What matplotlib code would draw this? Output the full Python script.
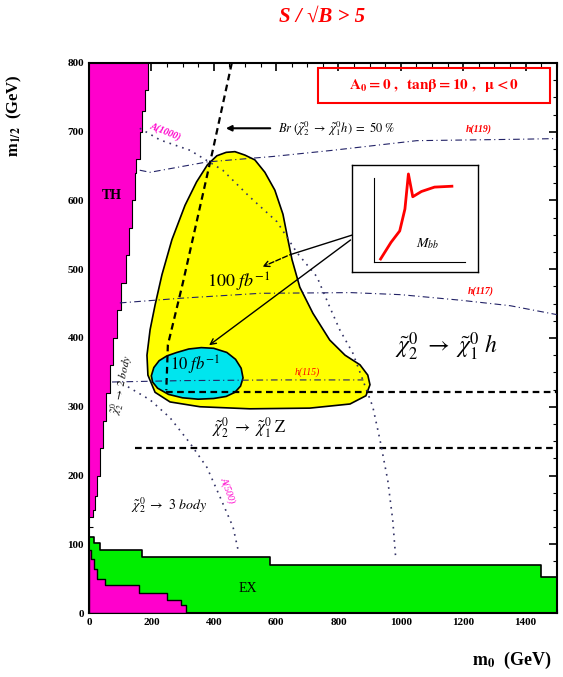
import numpy as np
import matplotlib
matplotlib.use("Agg")
import matplotlib.pyplot as plt
from matplotlib.patches import Polygon, Rectangle

plt.rcParams["font.family"] = ["Liberation Serif", "DejaVu Serif"]
plt.rcParams["mathtext.fontset"] = "stix"

# Theoretically excluded strip (TH): upper m1/2 edge vs m0 boundary
th_m12 = [800, 760, 730, 700, 660, 640, 600, 560, 520, 480, 440, 400, 360, 320, 280, 240, 200, 170, 150]
th_m0 = [189, 180, 170, 163, 152, 147, 138, 128, 118, 102, 90, 78, 66, 55, 45, 35, 26, 18, 12]

# Experimentally excluded (EX) staircase
ex_m0 = [0, 15, 35, 170, 580, 1450, 1500]
ex_m12 = [110, 102, 92, 81, 70, 52]

# Low-m0 TH corner staircase
th_low_m0 = [0, 8, 15, 25, 50, 160, 250, 295, 310]
th_low_m12 = [92, 78, 64, 50, 41, 29, 19, 12]

# 5 sigma reach contours
reach_100 = [(440, 670), (468, 671), (500, 666), (532, 659), (564, 641), (596, 615), (622, 580),
             (638, 543), (651, 514), (676, 474), (718, 436), (772, 397), (821, 375),
             (869, 361), (894, 346), (901, 332), (888, 316), (837, 304), (708, 298),
             (516, 297), (356, 300), (260, 307), (212, 321), (189, 346), (186, 375),
             (196, 412), (212, 448), (234, 492), (266, 543), (308, 593), (345, 627),
             (380, 652), (410, 665)]
reach_10 = [(200, 345), (208, 357), (225, 367), (250, 374), (282, 379), (320, 384), (360, 386),
            (400, 385), (442, 379), (470, 369), (488, 356), (494, 342), (486, 330), (468, 321),
            (440, 315), (400, 312), (350, 311), (300, 313), (255, 318), (220, 327), (204, 336)]

# Br(chi2 -> chi1 h) = 50 % line
br50_m0 = [458, 397, 301, 253, 248]
br50_m12 = [800, 673, 480, 390, 324]

# decay regime boundaries
h_threshold = 322
z_threshold = 240

# Higgs mass contours
h115_m0 = [74, 300, 600, 880]
h115_m12 = [336, 338, 339, 339]
h117_m0 = [99, 300, 550, 840, 1000, 1190, 1350, 1500]
h117_m12 = [451, 458, 465, 466, 463, 455, 447, 434]
h119_m0 = [163, 196, 378, 590, 782, 1051, 1372, 1500]
h119_m12 = [644, 641, 656, 664, 673, 687, 689, 690]

# A mass contours
a500_m0 = [125, 196, 260, 324, 378, 420, 462, 478]
a500_m12 = [329, 310, 284, 247, 212, 169, 125, 92]
a1000_m0 = [163, 228, 324, 429, 516, 603, 667, 731, 772, 804, 846, 910, 933, 958, 974, 984]
a1000_m12 = [705, 688, 673, 644, 605, 569, 524, 489, 445, 412, 378, 300, 252, 193, 135, 77]

# sketch of the M_bb peak shown in the inset
mbb_x = [0.08, 0.2, 0.3, 0.36, 0.4, 0.45, 0.55, 0.7, 0.9]
mbb_y = [0.03, 0.22, 0.35, 0.6, 1.0, 0.74, 0.8, 0.85, 0.86]

fig = plt.figure(figsize=(5.63, 6.77), dpi=100)
ax = fig.add_axes([0.158, 0.0945, 0.831, 0.8125])
ax.set_xlim(0, 1500)
ax.set_ylim(0, 800)

# excluded regions
ax.fill_between(ex_m0, 0, ex_m12 + [ex_m12[-1]], step="post", color="#00ee00", ec="black", lw=1.2, zorder=2)
ax.fill_between(th_low_m0, 0, th_low_m12 + [th_low_m12[-1]], step="post", color="#ff00cc", ec="black", lw=1.0, zorder=3)
ax.fill_betweenx(th_m12 + [140], 0, th_m0 + [0], step="post", color="#ff00cc", ec="black", lw=0.8, zorder=3)

# reach contours
ax.add_patch(Polygon(reach_100, closed=True, fc="#ffff00", ec="black", lw=1.2, zorder=2))
ax.add_patch(Polygon(reach_10, closed=True, fc="#00e5ee", ec="black", lw=1.2, zorder=3))

# boundaries
ax.plot(br50_m0, br50_m12, color="black", ls=(0, (3, 2)), lw=1.6, zorder=4)
ax.plot([br50_m0[-1], 1500], [h_threshold, h_threshold], color="black", ls=(0, (3, 2)), lw=1.6, zorder=4)
ax.plot([147, 1500], [z_threshold, z_threshold], color="black", ls=(0, (3, 2)), lw=1.6, zorder=4)
for mx, my in [(h115_m0, h115_m12), (h117_m0, h117_m12), (h119_m0, h119_m12)]:
    ax.plot(mx, my, color="#222266", ls=(0, (6, 3, 1, 3)), lw=0.8, zorder=4)
for mx, my in [(a500_m0, a500_m12), (a1000_m0, a1000_m12)]:
    ax.plot(mx, my, color="#333366", ls=(0, (1, 3)), lw=1.2, zorder=4)

# labels
ax.text(74, 607, "TH", fontsize=10, fontweight="bold", ha="center", va="center", zorder=5)
ax.text(510, 36, "EX", fontsize=10, ha="center", va="center", zorder=5)
ax.text(481, 481, r"$\mathit{100\ fb^{-1}}$", fontsize=13, ha="center", va="center", zorder=5)
ax.text(340, 360, r"$\mathit{10\ fb^{-1}}$", fontsize=12, ha="center", va="center", zorder=5)
ax.text(699, 350, "h(115)", fontsize=7, color="red", style="italic", ha="center", va="center", zorder=5)
ax.text(1256, 468, "h(117)", fontsize=7, color="red", style="italic", fontweight="bold", ha="center", va="center", zorder=5)
ax.text(1250, 703, "h(119)", fontsize=7, color="red", style="italic", fontweight="bold", ha="center", va="center", zorder=5)
ax.text(246, 700, "A(1000)", fontsize=7, color="#ff00cc", style="italic", fontweight="bold", rotation=-22,
        ha="center", va="center", zorder=5)
ax.text(446, 179, "A(500)", fontsize=7, color="#ff00cc", style="italic", rotation=-70,
        ha="center", va="center", zorder=5)
ax.text(1147, 387, r"$\tilde{\chi}^0_2\ \rightarrow\ \tilde{\chi}^0_1\ h$", fontsize=17, ha="center", va="center", zorder=5)
ax.text(513, 269, r"$\tilde{\chi}^0_2\ \rightarrow\ \tilde{\chi}^0_1\ \mathrm{Z}$", fontsize=12, ha="center", va="center", zorder=5)
ax.text(256, 157, r"$\tilde{\chi}^0_2\ \rightarrow\ 3\ body$", fontsize=10, ha="center", va="center", zorder=5)
ax.text(108, 332, r"$\tilde{\chi}^0_2\ \rightarrow\ 2\ body$", fontsize=8, rotation=78, ha="center", va="center", zorder=5)
ax.text(606, 705, r"$Br\ (\tilde{\chi}^0_2\ \rightarrow\ \tilde{\chi}^0_1 h)\ =\ 50\ \%$", fontsize=9,
        ha="left", va="center", zorder=5)
ax.annotate("", xy=(430, 705), xytext=(590, 705),
            arrowprops=dict(arrowstyle="-|>", color="black", lw=1.5, mutation_scale=8), zorder=5)

# pointers from the inset
ax.plot([846, 644], [550, 521], color="black", lw=1.0, zorder=5)
ax.annotate("", xy=(548, 502), xytext=(644, 521),
            arrowprops=dict(arrowstyle="->", color="black", lw=1.0, ls="--"), zorder=5)
ax.annotate("", xy=(378, 387), xytext=(846, 545),
            arrowprops=dict(arrowstyle="->", color="black", lw=1.0), zorder=5)

# parameter box
ax.add_patch(Rectangle((0.489, 0.927), 0.496, 0.064, transform=ax.transAxes, fill=False,
                       ec="red", lw=1.5, zorder=6))
ax.text(0.737, 0.959, r"$\mathbf{A_0 = 0\ ,\ \ tan\beta = 10\ ,\ \ \mu < 0}$", transform=ax.transAxes,
        color="red", fontsize=11, ha="center", va="center", zorder=6)

ax.set_xticks(np.arange(0, 1401, 200))
ax.set_yticks(np.arange(0, 801, 100))
ax.set_xticks(np.arange(0, 1501, 50), minor=True)
ax.set_yticks(np.arange(0, 801, 25), minor=True)
ax.tick_params(which="both", direction="in", top=True, right=True, labelsize=8)
ax.tick_params(which="major", length=6, width=1.2)
ax.tick_params(which="minor", length=3, width=0.8)
for lab in ax.get_xticklabels() + ax.get_yticklabels():
    lab.set_fontweight("bold")
for sp in ax.spines.values():
    sp.set_linewidth(1.5)

fig.text(0.025, 0.83, r"$\mathbf{m_{1/2}}$  (GeV)", rotation=90, fontsize=12, fontweight="bold",
         ha="center", va="center")
fig.text(0.91, 0.025, r"$\mathbf{m_0}$  (GeV)", fontsize=13, fontweight="bold", ha="center", va="center")
fig.text(0.572, 0.975, "S / √B > 5", fontsize=15, color="red", fontweight="bold", style="italic",
         ha="center", va="center")

# inset with the M_bb distribution
ins = fig.add_axes([0.625, 0.598, 0.224, 0.158])
ins.set_xticks([])
ins.set_yticks([])
for sp in ins.spines.values():
    sp.set_linewidth(1.0)
ins.set_xlim(-0.25, 1.2)
ins.set_ylim(-0.12, 1.1)
ins.plot([0, 0], [0, 0.95], color="black", lw=0.8)
ins.plot([0, 1.05], [0, 0], color="black", lw=0.8)
ins.plot(mbb_x, mbb_y, color="red", lw=2)
ins.text(0.62, 0.2, r"$\mathit{M_{bb}}$", fontsize=10, ha="center", va="center")

fig.savefig("out.png", dpi=100)
